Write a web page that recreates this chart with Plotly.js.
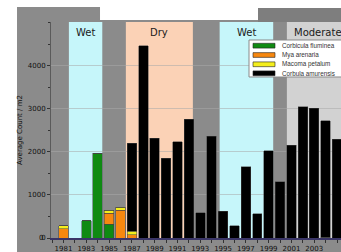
<!DOCTYPE html>
<html>
<head>
<meta charset="utf-8">
<script src="https://cdn.plot.ly/plotly-3.0.1.min.js"></script>
<style>
html,body{margin:0;padding:0;background:#fff;overflow:hidden;}
#chart{width:341px;height:252px;}
</style>
</head>
<body>
<div id="chart"></div>
<script>
// ---- data ----
var years = [1981,1982,1983,1984,1985,1986,1987,1988,1989,1990,1991,1992,1993,1994,1995,1996,1997,1998,1999,2000,2001,2002,2003,2004,2005];
var corbiculaFluminea = [0,0,400,1970,325,0,0,0,0,0,0,0,0,0,0,0,0,0,0,0,0,0,0,20,0];
var myaArenaria       = [220,0,0,0,250,650,70,0,0,0,0,0,0,0,0,0,0,0,0,0,0,0,0,0,0];
var macomaPetalum     = [60,0,0,0,75,65,90,0,0,0,0,0,0,0,0,0,0,0,0,0,0,0,0,0,0];
var corbulaAmurensis  = [0,0,0,0,0,0,2040,4470,2320,1850,2240,2760,590,2370,620,280,1660,560,2030,1310,2160,3050,3010,2700,2300];
var seriesNames = ["Corbicula fluminea","Mya arenaria","Macoma petalum","Corbula amurensis"];
var seriesColors = ["#0f8a12","#f7880f","#f4ee1c","#000000"];
var yTickVals = [0,1000,2000,3000,4000];
var periodLabels = ["Wet","Dry","Wet","Moderate"];
var periodStart = [1981.47,1986.47,1994.7,2000.6];
var periodEnd = [1984.4,1992.35,1999.4,2006];
var periodColors = ["#c6f6fa","#fbd2b6","#c6f6fa","#d2d2d2"];
var yTitle = "Average Count / m2";

// ---- traces ----
var seriesValues = [corbiculaFluminea, myaArenaria, macomaPetalum, corbulaAmurensis];
var traces = seriesValues.map(function(v,i){
  return {
    type:"bar", x:years, y:v, name:seriesNames[i], showlegend:false,
    marker:{color:seriesColors[i], line:{color:"#444", width:0.5}},
    hoverinfo:"x+y+name"
  };
});

// ---- frame & period bands ----
var shapes = [
  {type:"rect", xref:"paper", yref:"paper", x0:-0.1172, x1:1.05, y0:-0.07, y1:1.0093, fillcolor:"#8b8b8b", line:{width:0}, layer:"below"},
  {type:"rect", xref:"paper", yref:"paper", x0:-0.1172, x1:0.169, y0:1.0, y1:1.0694, fillcolor:"#8b8b8b", line:{width:0}, layer:"below"},
  {type:"rect", xref:"paper", yref:"paper", x0:0.7138, x1:1.05, y0:1.0, y1:1.0648, fillcolor:"#7e7e7e", line:{width:0}, layer:"below"}
];
var annotations = [];
periodLabels.forEach(function(lab, i){
  shapes.push({type:"rect", xref:"x", yref:"paper", x0:periodStart[i], x1:periodEnd[i], y0:0, y1:1,
    fillcolor:periodColors[i], line:{width:0}, layer:"below"});
  var cx = (periodStart[i] + Math.min(periodEnd[i], 2005.35)) / 2;
  if (lab === "Moderate") cx = 2003.3;
  annotations.push({xref:"x", yref:"paper", x:cx, y:0.953, text:lab, showarrow:false,
    font:{family:"DejaVu Sans", size:10, color:"#1a1a1a"}, xanchor:"center", yanchor:"middle"});
});

// ---- legend box (drawn as shapes + text for the compact spacing) ----
shapes.push({type:"rect", xref:"paper", yref:"paper", x0:0.6828, x1:1.05, y0:0.7454, y1:0.9167,
  fillcolor:"#ffffff", line:{color:"#8a8a8a", width:1}, layer:"above"});
var legRows = [0.8903, 0.8472, 0.8042, 0.7625];
seriesNames.forEach(function(n, i){
  shapes.push({type:"rect", xref:"paper", yref:"paper", x0:0.6966, x1:0.7724,
    y0:legRows[i]-0.011, y1:legRows[i]+0.011, fillcolor:seriesColors[i],
    line:{color:"#222", width:0.6}, layer:"above"});
  annotations.push({xref:"paper", yref:"paper", x:0.7897, y:legRows[i], text:n, showarrow:false,
    xanchor:"left", yanchor:"middle", font:{family:"Liberation Sans", size:6.3, color:"#333"}});
});

var tickFont = {family:"DejaVu Sans", size:7, color:"#111"};
// baseline label at the axis corner (paper coordinates: bottom of the plot area)
annotations.push({xref:"paper", yref:"paper", x:-0.02, y:0.0, text:String(yTickVals[0]),
  showarrow:false, xanchor:"right", yanchor:"middle", font:tickFont});

var layout = {
  width:341, height:252,
  margin:{l:51, r:0, t:22, b:14, pad:0},
  paper_bgcolor:"#ffffff",
  plot_bgcolor:"#8b8b8b",
  barmode:"stack",
  bargap:0.17,
  showlegend:false,
  xaxis:{range:[1979.9, 2005.35], tickmode:"linear", tick0:1981, dtick:2,
    ticks:"outside", ticklen:3, tickcolor:"#333", tickwidth:1,
    minor:{dtick:1, tick0:1981, ticks:"outside", ticklen:3, tickcolor:"#333"},
    showgrid:false, zeroline:false, showline:true, linecolor:"#3a3566", linewidth:1.5,
    tickfont:tickFont, fixedrange:true},
  yaxis:{range:[0, 5020], tickmode:"array", tickvals:yTickVals,
    ticks:"outside", ticklen:3, tickcolor:"#333", ticklabeloverflow:"allow",
    minor:{tickmode:"linear", tick0:0, dtick:500, ticks:"outside", ticklen:2, tickcolor:"#333", showgrid:false},
    showgrid:true, gridcolor:"rgba(170,170,170,0.55)", gridwidth:1, zeroline:false,
    showline:true, mirror:true, linecolor:"#5a5a5a", linewidth:1,
    tickfont:tickFont,
    title:{text:yTitle, font:{family:"DejaVu Sans", size:7, color:"#111"}, standoff:4},
    fixedrange:true},
  shapes:shapes,
  annotations:annotations
};

Plotly.newPlot("chart", traces, layout, {displayModeBar:false, staticPlot:true});
</script>
</body>
</html>
